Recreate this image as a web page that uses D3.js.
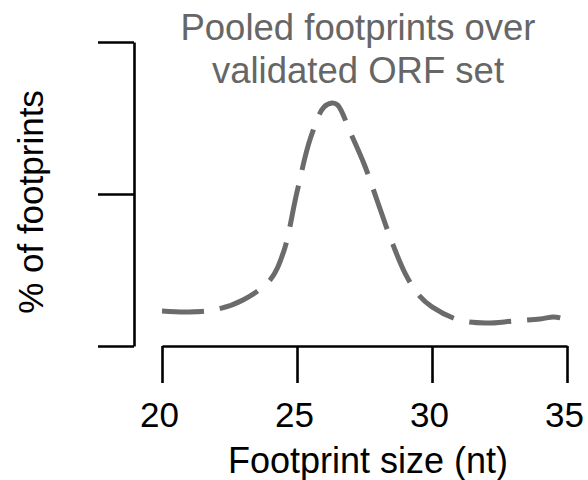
<!DOCTYPE html>
<html>
<head>
    <meta charset="utf-8">
    <script src="https://d3js.org/d3.v7.min.js"></script>
    <style>
        body { margin: 0; background: #fff; }
        text { font-family: "Liberation Sans", Arial, Helvetica, sans-serif; }
    </style>
</head>
<body>
    <svg id="chart" width="588" height="480"></svg>
    <script>
        // footprint size (nt) and pooled % of footprints
        let sizes = [20, 21, 22, 23, 24, 24.5, 25, 25.5, 26, 26.3, 26.5, 27, 27.5, 28, 28.5, 29, 29.5, 30, 31, 32, 33, 34, 34.5, 34.75]
        let pct   = [2.30, 2.24, 2.40, 3.03, 4.34, 6.18, 10.13, 13.68, 15.72, 15.99, 15.86, 13.95, 11.91, 9.41, 6.91, 4.80, 3.36, 2.57, 1.71, 1.51, 1.64, 1.78, 1.91, 1.85]
        let xTicks = [20, 25, 30, 35]
        let yTicks = [0, 10, 20]
        let titleLines = ["Pooled footprints over", "validated ORF set"]

        let data = sizes.map((s, i) => ({size: s, pct: pct[i]}))

        let svg = d3.select("#chart")

        let x = d3.scaleLinear().domain([20, 35]).range([162, 567])
        let y = d3.scaleLinear().domain([0, 20]).range([346, 42])

        // y axis, shifted left of the x axis start
        let yAxis = svg.append("g")
            .attr("transform", "translate(134,0)")
            .call(d3.axisLeft(y).tickValues(yTicks).tickSize(36).tickSizeOuter(0).tickFormat(""))
        yAxis.selectAll("path, line").attr("stroke", "#000").attr("stroke-width", 2.6)

        let xAxis = svg.append("g")
            .attr("transform", "translate(0,346)")
            .call(d3.axisBottom(x).tickValues(xTicks).tickSize(37).tickSizeOuter(0).tickPadding(19))
        xAxis.selectAll("path, line").attr("stroke", "#000").attr("stroke-width", 2.6)
        xAxis.selectAll("text")
            .attr("dx", -3)
            .attr("font-size", "35px")
            .attr("fill", "#000")
            .attr("font-family", "Liberation Sans, Arial, sans-serif")

        let line = d3.line()
            .x(d => x(d.size))
            .y(d => y(d.pct))
            .curve(d3.curveCatmullRom.alpha(0.5))

        svg.append("path")
            .datum(data)
            .attr("d", line)
            .attr("fill", "none")
            .attr("stroke", "#6b6b6b")
            .attr("stroke-width", 5)
            .attr("stroke-dasharray", "42,16")

        // titles and labels
        svg.selectAll(".title")
            .data(titleLines)
            .enter().append("text")
            .attr("class", "title")
            .attr("x", 358)
            .attr("y", (d, i) => 40 + i * 43)
            .attr("text-anchor", "middle")
            .attr("font-size", "36.5px")
            .attr("fill", "#666")
            .text(d => d)

        svg.append("text")
            .attr("x", 368)
            .attr("y", 473)
            .attr("text-anchor", "middle")
            .attr("font-size", "36px")
            .attr("fill", "#000")
            .text("Footprint size (nt)")

        svg.append("text")
            .attr("transform", "translate(43,202) rotate(-90)")
            .attr("text-anchor", "middle")
            .attr("font-size", "35px")
            .attr("fill", "#000")
            .text("% of footprints")
    </script>
</body>
</html>
